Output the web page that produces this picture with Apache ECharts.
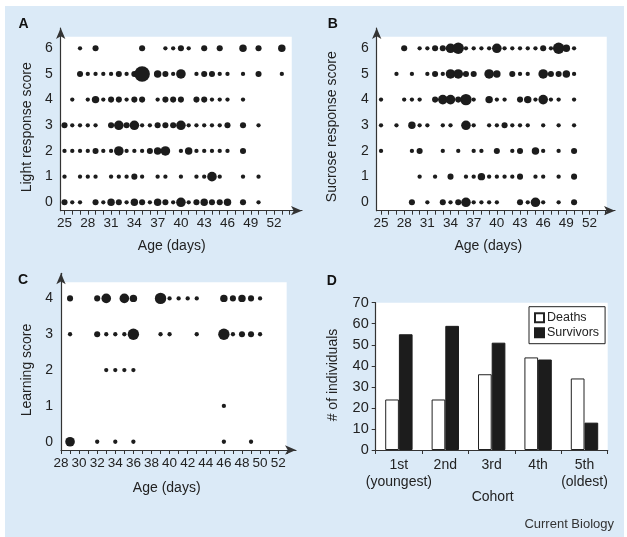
<!DOCTYPE html>
<html>
<head>
<meta charset="utf-8">
<script src="https://cdn.jsdelivr.net/npm/echarts@6/dist/echarts.min.js"></script>
<style>
html,body{margin:0;padding:0;background:#ffffff;}
#chart{width:627px;height:537px;}
</style>
</head>
<body>
<div id="chart"></div>
<script>
// ---- DATA ----
// [age (days), score, estimated number of individuals]
const lightPoints = [
  [27,6,1],[29,6,2],[35,6,2],[38,6,1],[39,6,1],[40,6,2],[41,6,1],[43,6,2],[45,6,2],[48,6,3],[50,6,2],[53,6,3],
  [27,5,2],[28,5,1],[29,5,1],[30,5,1],[31,5,1],[32,5,2],[33,5,1],[34,5,2],[35,5,13],[37,5,3],[38,5,2],[39,5,1],[40,5,5],[42,5,1],[43,5,2],[44,5,2],[45,5,1],[46,5,1],[48,5,1],[50,5,2],[53,5,1],
  [26,4,1],[28,4,1],[29,4,3],[30,4,1],[31,4,2],[32,4,2],[33,4,1],[34,4,2],[35,4,2],[37,4,1],[38,4,2],[39,4,2],[40,4,2],[42,4,2],[43,4,2],[44,4,1],[45,4,1],[46,4,1],[48,4,1],
  [25,3,2],[26,3,1],[27,3,1],[28,3,1],[29,3,1],[31,3,2],[32,3,5],[33,3,2],[34,3,5],[35,3,1],[36,3,1],[37,3,2],[38,3,2],[39,3,2],[40,3,5],[41,3,1],[42,3,1],[43,3,1],[44,3,1],[45,3,1],[46,3,2],[48,3,2],[50,3,1],
  [25,2,1],[26,2,1],[27,2,1],[28,2,1],[29,2,2],[30,2,1],[31,2,1],[32,2,5],[33,2,1],[34,2,1],[35,2,1],[36,2,2],[37,2,3],[38,2,5],[40,2,1],[41,2,3],[42,2,1],[43,2,1],[44,2,1],[45,2,1],[46,2,1],[48,2,2],
  [25,1,1],[27,1,1],[28,1,1],[29,1,1],[31,1,1],[32,1,1],[33,1,1],[34,1,2],[35,1,1],[37,1,1],[38,1,1],[40,1,1],[42,1,1],[43,1,1],[44,1,5],[45,1,1],[48,1,1],[50,1,1],
  [25,0,2],[26,0,1],[27,0,1],[29,0,2],[30,0,1],[31,0,3],[32,0,2],[33,0,1],[34,0,3],[35,0,2],[36,0,1],[37,0,3],[38,0,2],[39,0,1],[40,0,5],[41,0,1],[42,0,2],[43,0,3],[44,0,2],[45,0,2],[46,0,3],[48,0,2],[50,0,1]
];
const sucrosePoints = [
  [28,6,2],[30,6,1],[31,6,1],[32,6,2],[33,6,2],[34,6,5],[35,6,7],[36,6,1],[37,6,1],[38,6,1],[39,6,1],[40,6,5],[41,6,1],[42,6,1],[43,6,1],[44,6,1],[45,6,1],[46,6,2],[47,6,1],[48,6,7],[49,6,3],[50,6,1],
  [27,5,1],[29,5,1],[31,5,1],[32,5,2],[33,5,1],[34,5,5],[35,5,5],[36,5,2],[37,5,2],[39,5,5],[40,5,3],[42,5,2],[43,5,1],[44,5,1],[46,5,5],[47,5,2],[48,5,2],[49,5,3],[50,5,1],
  [25,4,1],[28,4,1],[29,4,1],[30,4,1],[32,4,2],[33,4,5],[34,4,5],[35,4,2],[36,4,7],[37,4,1],[39,4,3],[40,4,1],[41,4,1],[43,4,2],[44,4,3],[45,4,1],[46,4,5],[47,4,1],[48,4,1],[50,4,1],
  [25,3,1],[27,3,1],[29,3,3],[30,3,1],[31,3,1],[33,3,1],[34,3,1],[36,3,5],[37,3,1],[39,3,1],[40,3,1],[41,3,2],[42,3,1],[43,3,1],[44,3,1],[46,3,1],[48,3,1],[50,3,1],
  [25,2,1],[29,2,1],[30,2,2],[33,2,1],[35,2,1],[37,2,1],[38,2,1],[40,2,2],[42,2,1],[43,2,2],[45,2,3],[46,2,1],[48,2,1],[50,2,2],
  [30,1,1],[32,1,1],[34,1,2],[36,1,1],[37,1,1],[38,1,3],[39,1,1],[40,1,1],[41,1,1],[42,1,1],[43,1,2],[45,1,1],[46,1,1],[48,1,1],[50,1,2],
  [29,0,2],[31,0,1],[33,0,2],[34,0,1],[35,0,2],[36,0,5],[37,0,1],[38,0,1],[39,0,1],[40,0,1],[43,0,2],[44,0,1],[45,0,5],[46,0,1],[48,0,1],[50,0,2]
];
const learningPoints = [
  [29,4,2],[32,4,2],[33,4,5],[35,4,5],[36,4,3],[39,4,7],[40,4,1],[41,4,1],[42,4,1],[43,4,1],[46,4,3],[47,4,2],[48,4,3],[49,4,2],[50,4,1],
  [29,3,1],[32,3,2],[33,3,1],[34,3,1],[35,3,1],[36,3,7],[39,3,1],[40,3,1],[43,3,1],[46,3,7],[47,3,1],[48,3,2],[49,3,2],[50,3,1],
  [33,2,1],[34,2,1],[35,2,1],[36,2,1],
  [46,1,1],
  [29,0,5],[32,0,1],[34,0,1],[36,0,1],[46,0,1],[49,0,1]
];
const cohorts = ['1st\n(youngest)', '2nd', '3rd', '4th', '5th\n(oldest)'];
const deaths = [24, 24, 36, 44, 34];
const survivors = [55, 59, 51, 43, 13];

const ageTicksAB = [25,26,27,28,29,30,31,32,33,34,35,36,37,38,39,40,41,42,43,44,45,46,47,48,49,50,51,52,53,54];
const ageLabelsAB = [25,28,31,34,37,40,43,46,49,52];
const ageTicksC = [28,29,30,31,32,33,34,35,36,37,38,39,40,41,42,43,44,45,46,47,48,49,50,51,52,53];
const ageLabelsC = [28,30,32,34,36,38,40,42,44,46,48,50,52];
const responseLabels = [0,1,2,3,4,5,6];
const learningLabels = [0,1,2,3,4];

// ---- STYLE ----
const FONT = 'Liberation Sans, Arial, Helvetica, sans-serif';
const INK = '#1c1c1c';
const BLUE = '#dbeaf7';
const dotSize = v => 4.3 * Math.sqrt(v[2]);

const chart = echarts.init(document.getElementById('chart'), null, {renderer: 'canvas'});

function valueXAxis(gi, min, max, ticks, labels) {
  return {
    type: 'value', gridIndex: gi, min: min, max: max, z: 5,
    axisLine: {show: true, onZero: false, lineStyle: {color: '#333', width: 1.2}, symbol: ['none', 'arrow'], symbolSize: [7, 11], symbolOffset: [0, 0]},
    axisTick: {show: true, customValues: ticks, length: 4, lineStyle: {color: '#333', width: 1}},
    axisLabel: {customValues: labels, margin: 6, fontFamily: FONT, fontSize: 13.5, color: '#222'},
    splitLine: {show: false}
  };
}
function valueYAxis(gi, min, max, labels) {
  return {
    type: 'value', gridIndex: gi, min: min, max: max, z: 5,
    axisLine: {show: true, onZero: false, lineStyle: {color: '#333', width: 1.2}, symbol: ['none', 'arrow'], symbolSize: [7, 11], symbolOffset: [0, 0]},
    axisTick: {show: false},
    axisLabel: {customValues: labels, margin: 8, fontFamily: FONT, fontSize: 14, color: '#222'},
    splitLine: {show: false}
  };
}
function scatterSeries(gi, data, area) {
  return {
    type: 'scatter', xAxisIndex: gi, yAxisIndex: gi, data: data, z: 2,
    symbolSize: dotSize, itemStyle: {color: INK, opacity: 1},
    emphasis: {disabled: true}, silent: true,
    markArea: {silent: true, itemStyle: {color: '#ffffff', opacity: 1}, data: [[{coord: area[0]}, {coord: area[1]}]]}
  };
}
function txt(x, y, text, opts) {
  return Object.assign({
    type: 'text', x: x, y: y, z: 10,
    style: Object.assign({text: text, fill: '#222', font: '14px ' + FONT, align: 'center', verticalAlign: 'middle'}, opts && opts.style || {})
  }, opts && opts.rotation !== undefined ? {rotation: opts.rotation} : {});
}

const option = {
  animation: false,
  backgroundColor: '#ffffff',
  grid: [
    {left: 60.7, top: 28, width: 241.3, height: 182.7},
    {left: 376.7, top: 28, width: 238.3, height: 182.7},
    {left: 61, top: 273.3, width: 235, height: 176.7},
    {left: 375.7, top: 302.7, width: 232, height: 147.3, show: true, backgroundColor: '#ffffff', borderWidth: 0}
  ],
  xAxis: [
    valueXAxis(0, 24.51, 55.6, ageTicksAB, ageLabelsAB),
    valueXAxis(1, 24.44, 55.3, ageTicksAB, ageLabelsAB),
    valueXAxis(2, 28, 53.97, ageTicksC, ageLabelsC),
    {
      type: 'category', gridIndex: 3, data: cohorts, z: 5,
      axisLine: {lineStyle: {color: '#333', width: 1.2}},
      axisTick: {show: true, length: 4, alignWithLabel: false, lineStyle: {color: '#333'}},
      axisLabel: {fontFamily: FONT, fontSize: 14, color: '#222', lineHeight: 17, margin: 7, interval: 0}
    }
  ],
  yAxis: [
    valueYAxis(0, -0.327, 6.79, responseLabels),
    valueYAxis(1, -0.327, 6.79, responseLabels),
    valueYAxis(2, -0.23, 4.70, learningLabels),
    {
      type: 'value', gridIndex: 3, min: 0, max: 70, interval: 10, z: 5,
      axisLine: {show: true, lineStyle: {color: '#333', width: 1.2}},
      axisTick: {show: true, length: 4, lineStyle: {color: '#333'}},
      axisLabel: {fontFamily: FONT, fontSize: 14.5, color: '#222', margin: 7},
      splitLine: {show: false}
    }
  ],
  legend: {
    left: 529, top: 306.7, orient: 'vertical',
    data: ['Deaths', 'Survivors'],
    backgroundColor: '#ffffff', borderColor: '#222', borderWidth: 1,
    padding: [4, 6, 4, 5], itemGap: 1, itemWidth: 9, itemHeight: 9, icon: 'rect',
    textStyle: {fontFamily: FONT, fontSize: 12.5, color: '#222', lineHeight: 14, padding: [0, 0, 0, -2]},
    selectedMode: false
  },
  series: [
    scatterSeries(0, lightPoints, [[24.51, -0.327], [54.28, 6.45]]),
    scatterSeries(1, sucrosePoints, [[24.44, -0.327], [54.23, 6.45]]),
    scatterSeries(2, learningPoints, [[28, -0.23], [52.94, 4.45]]),
    {
      name: 'Deaths', type: 'bar', xAxisIndex: 3, yAxisIndex: 3, data: deaths,
      barGap: '0%', barCategoryGap: '41%',
      itemStyle: {color: '#ffffff', borderColor: '#222', borderWidth: 1}, silent: true
    },
    {
      name: 'Survivors', type: 'bar', xAxisIndex: 3, yAxisIndex: 3, data: survivors,
      barGap: '0%', barCategoryGap: '41%',
      itemStyle: {color: INK, borderColor: INK, borderWidth: 1}, silent: true
    }
  ],
  graphic: [
    {type: 'rect', z: -10, silent: true, shape: {x: 5, y: 6, width: 619, height: 531}, style: {fill: BLUE}},
    txt(23.5, 24, 'A', {style: {font: 'bold 14px ' + FONT, fill: '#111'}}),
    txt(332.7, 24, 'B', {style: {font: 'bold 14px ' + FONT, fill: '#111'}}),
    txt(23, 280, 'C', {style: {font: 'bold 14px ' + FONT, fill: '#111'}}),
    txt(331.7, 281, 'D', {style: {font: 'bold 14px ' + FONT, fill: '#111'}}),
    txt(171.7, 246, 'Age (days)'),
    txt(488.3, 246, 'Age (days)'),
    txt(166.7, 488.3, 'Age (days)'),
    txt(492.7, 497.3, 'Cohort'),
    txt(26.7, 127.3, 'Light response score', {rotation: Math.PI / 2}),
    txt(331.7, 126.7, 'Sucrose response score', {rotation: Math.PI / 2}),
    txt(26.7, 370, 'Learning score', {rotation: Math.PI / 2}),
    txt(332.7, 375, '# of individuals', {rotation: Math.PI / 2}),
    txt(614, 524.3, 'Current Biology', {style: {font: '13px ' + FONT, align: 'right', fill: '#333'}})
  ]
};
chart.setOption(option);
</script>
</body>
</html>
